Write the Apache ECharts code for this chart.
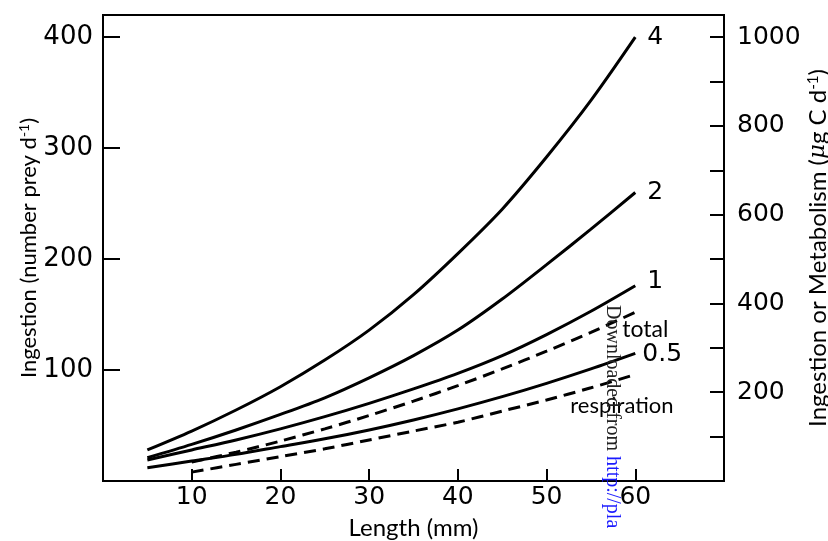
<!DOCTYPE html>
<html>
<head>
<meta charset="utf-8">
<script src="https://cdn.jsdelivr.net/npm/echarts@6/dist/echarts.min.js"></script>
<style>html,body{margin:0;padding:0;background:#fff}#c{width:828px;height:541px}</style>
</head>
<body>
<div id="c"></div>
<script>
// Data
var lengths = [5, 10, 15, 20, 25, 30, 35, 40, 45, 50, 55, 60];
var ing4  = [28, 45, 64, 85, 109, 136, 168, 205, 245, 292, 343, 400];
var ing2  = [21, 33, 46, 60, 75, 93, 113, 136, 164, 195, 227, 260];
var ing1  = [19, 28, 37, 47, 58, 70, 83, 97, 113, 132, 153, 176];
var ing05 = [12, 18, 24, 31, 38, 46, 55, 65, 76, 88, 101, 115];
var metabLengths = [10, 15, 20, 25, 30, 35, 40, 45, 50, 55, 60];
var totalMet = [17, 26, 36, 47, 59, 72, 86, 101, 117, 134, 152];
var respMet  = [8, 15, 22, 29, 37, 45, 53, 63, 73, 84, 96];
var xTicks = [10, 20, 30, 40, 50, 60];
var leftTicks = [100, 200, 300, 400];
var rightTicks = [200, 400, 600, 800, 1000];

function pairs(xs, ys) { return xs.map(function (x, i) { return [x, ys[i]]; }); }

var numFont = 'DejaVu Sans';
var txtFont = 'Lato';

function curve(name, xs, ys, dashed, label, offset, font, size) {
  return {
    type: 'line', name: name, data: pairs(xs, ys), smooth: 0.3, symbol: 'none',
    lineStyle: { color: '#000', width: 3, type: dashed ? [12, 7] : 'solid' },
    endLabel: { show: true, formatter: label, color: '#000', fontFamily: font,
      fontSize: size, offset: offset, distance: 6 },
    z: 3
  };
}

var chart = echarts.init(document.getElementById('c'), null, { renderer: 'canvas' });
chart.setOption({
  animation: false,
  backgroundColor: '#fff',
  grid: { left: 103, right: 104, top: 15, bottom: 60, show: true, borderColor: '#000', borderWidth: 2,
    containLabel: false, outerBoundsMode: 'none' },
  xAxis: {
    type: 'value', min: 0, max: 70, interval: 10,
    name: 'Length (mm)', nameLocation: 'middle', nameGap: 35, nameMoveOverlap: false,
    nameTextStyle: { fontFamily: txtFont, fontSize: 24, color: '#000' },
    axisLine: { lineStyle: { color: '#000', width: 2 } },
    axisTick: { inside: true, length: 12, lineStyle: { width: 2, color: '#000' } },
    axisLabel: { fontFamily: numFont, fontSize: 25, color: '#000', margin: 4,
      formatter: function (v) { return xTicks.indexOf(v) >= 0 ? String(v) : ''; } },
    splitLine: { show: false }
  },
  yAxis: [{
    type: 'value', min: 0, max: 420, interval: 100, position: 'left',
    name: '{t|Ingestion (number prey d}{s|-1}{t|)}', nameLocation: 'middle', nameGap: 62, nameMoveOverlap: false,
    nameTextStyle: { rich: { t: { fontFamily: txtFont, fontSize: 22, color: '#000' },
      s: { fontFamily: txtFont, fontSize: 14, color: '#000', verticalAlign: 'top', padding: [0, 0, 10, 0] } } },
    axisLine: { lineStyle: { color: '#000', width: 2 } },
    axisTick: { inside: true, length: 17, lineStyle: { width: 2, color: '#000' } },
    axisLabel: { fontFamily: numFont, fontSize: 26, color: '#000', margin: 10,
      formatter: function (v) { return leftTicks.indexOf(v) >= 0 ? String(v) : ''; } },
    splitLine: { show: false }
  }, {
    type: 'value', min: 0, max: 1050, interval: 100, position: 'right',
    name: '{t|Ingestion or Metabolism (}{m|μ}{t|g C d}{s|-1}{t|)}', nameLocation: 'middle', nameGap: 82,
    nameRotate: 90, nameMoveOverlap: false,
    nameTextStyle: { rich: { t: { fontFamily: txtFont, fontSize: 24, color: '#000' },
      m: { fontFamily: 'DejaVu Serif', fontStyle: 'italic', fontSize: 23, color: '#000' },
      s: { fontFamily: txtFont, fontSize: 15, color: '#000', verticalAlign: 'top', padding: [0, 0, 10, 0] } } },
    axisLine: { lineStyle: { color: '#000', width: 2 } },
    axisTick: { inside: true, length: 14, lineStyle: { width: 2, color: '#000' } },
    axisLabel: { fontFamily: numFont, fontSize: 25, color: '#000', margin: 13,
      formatter: function (v) { return rightTicks.indexOf(v) >= 0 ? String(v) : ''; } },
    splitLine: { show: false }
  }],
  series: [
    curve('4', lengths, ing4, false, '4', [6, 0], numFont, 25),
    curve('2', lengths, ing2, false, '2', [6, 0], numFont, 25),
    curve('1', lengths, ing1, false, '1', [6, -4], numFont, 25),
    curve('0.5', lengths, ing05, false, '0.5', [1, 1], numFont, 25),
    curve('total', metabLengths, totalMet, true, 'total', [-19, 17], txtFont, 23),
    curve('respiration', metabLengths, respMet, true, 'respiration', [-71, 31], txtFont, 22)
  ],
  graphic: [{
    type: 'text', x: 622, y: 305, rotation: -Math.PI / 2, z: 10,
    style: { text: 'Downloaded from {b|http://pla}', fontFamily: 'Liberation Serif', fontSize: 20, fill: '#222',
      rich: { b: { fontFamily: 'Liberation Serif', fontSize: 20, fill: '#1a1aff' } } }
  }]
});
</script>
</body>
</html>
